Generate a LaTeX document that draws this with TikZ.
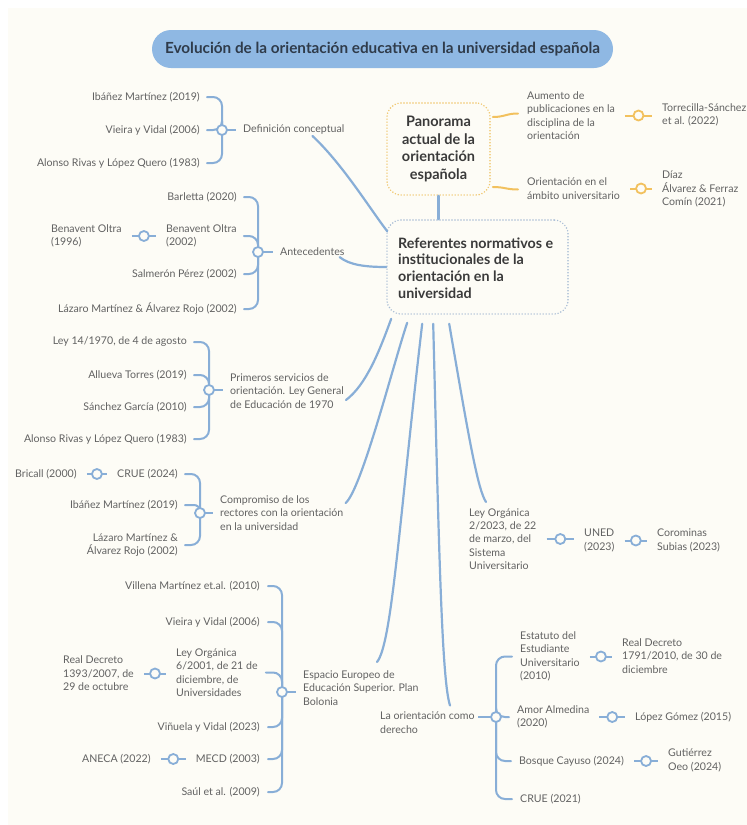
\documentclass[tikz,border=0pt]{standalone}
\usepackage{fontspec}
\setmainfont{Lato}
\usetikzlibrary{calc}
\definecolor{bg}{HTML}{FDFCF6}
\definecolor{bl}{HTML}{88AED7}
\definecolor{og}{HTML}{F2C15E}
\definecolor{tfill}{HTML}{8FB8E3}
\definecolor{ttext}{HTML}{2F3B4A}
\definecolor{lab}{HTML}{626262}
\definecolor{hd}{HTML}{3A3A3A}
\definecolor{refb}{HTML}{A8BDD5}
\definecolor{panb}{HTML}{F0C56A}
\newcommand\lnk[3][]{%
  \draw[lk,#1] ([xshift=10pt]#2.east) -- coordinate[midway] (m#2#3) ([xshift=-10pt]#3.west |- #2.east);
  \node[dot,#1] at (m#2#3) {};}
\begin{document}
\begin{tikzpicture}[x=1pt,y=-1pt,
  lbl/.style={inner sep=0pt, text=lab, font=\fontsize{10.6}{13.4}\selectfont},
  lblr/.style={lbl, anchor=east, align=right},
  lbll/.style={lbl, anchor=west, align=left},
  conn/.style={draw=bl, line width=2.2pt, line cap=round},
  br/.style={draw=bl, line width=2pt, line cap=round, rounded corners=9pt},
  lk/.style={draw=bl, line width=2pt},
  dot/.style={circle, draw=bl, fill=bg, line width=1.8pt, minimum size=10pt, inner sep=0pt},
  oconn/.style={draw=og, line width=2pt, line cap=round},
  dotbox/.style={dash pattern=on 0pt off 3pt, line cap=round, line width=1.6pt, rounded corners=14pt, inner sep=0pt},
]
\fill[white] (0,0) rectangle (747,825);
\fill[bg] (8,8) rectangle (747,825);
\useasboundingbox (0,0) rectangle (747,825);

% title
\node[fill=tfill, rounded corners=19pt, minimum width=461pt, minimum height=38pt, text=ttext,
  font=\bfseries\fontsize{15.3}{17}\selectfont] (title) at (382.5,49)
  {Evolución de la orientación educativa en la universidad española};

% central boxes
\node[dotbox, draw=panb, minimum width=103pt, minimum height=92pt, align=center, text=hd,
  font=\bfseries\fontsize{14.5}{17.6}\selectfont] (pan) at (438.5,149)
  {Panorama\\actual de la\\orientación\\española};
\node[dotbox, draw=refb, minimum width=181pt, minimum height=94pt] (ref) at (477.5,267) {};
\node[inner sep=0pt, anchor=west, align=left, text=hd,
  font=\bfseries\fontsize{14.3}{16.8}\selectfont] (reft) at (398,268)
  {Referentes normativos e\\institucionales de la\\orientación en la\\universidad};
\draw[conn] (pan.south) -- (pan.south |- ref.north);

% Panorama branches (orange)
\node[lbll] (aum) at (527,115.5) {Aumento de\\publicaciones en la\\disciplina de la\\orientación};
\node[lbll] (tor) at (662,115) {Torrecilla-Sánchez\\et al. (2022)};
\node[lbll] (ori) at (527,188.5) {Orientación en el\\ámbito universitario};
\node[lbll] (dia) at (662,189) {Díaz\\Álvarez \& Ferraz\\Comín (2021)};
\draw[oconn] ($(pan.east)+(2,-32)$) .. controls +(12,0) and +(-12,0) .. ($(aum.west)+(-9,-2)$);
\draw[oconn] ($(pan.east)+(2,38)$) .. controls +(12,0) and +(-12,0) .. ($(ori.west)+(-9,1)$);
\lnk[draw=og]{aum}{tor}
\lnk[draw=og]{ori}{dia}

% Definicion conceptual
\node[lblr] (a1) at (200,97) {Ibáñez Martínez (2019)};
\node[lblr] (a2) at (200,130) {Vieira y Vidal (2006)};
\node[lblr] (a3) at (200,163) {Alonso Rivas y López Quero (1983)};
\node[lbll] (def) at (243,130) {Definición conceptual};
\coordinate (ca) at (222,130);
\foreach \n in {a1,a2,a3} \draw[br] ([xshift=7pt]\n.east) -| (ca);
\draw[lk] (ca) -- ([xshift=-7pt]def.west);
\node[dot] (da) at (ca) {};

% Antecedentes
\node[lblr] (b1) at (237,197) {Barletta (2020)};
\node[lbll] (b2) at (166,236) {Benavent Oltra\\(2002)};
\node[lblr] (b3) at (237,274) {Salmerón Pérez (2002)};
\node[lblr] (b4) at (237,309) {Lázaro Martínez \& Álvarez Rojo (2002)};
\node[lbll] (b5) at (51,236) {Benavent Oltra\\(1996)};
\node[lbll] (ant) at (280,252) {Antecedentes};
\coordinate (cb) at (258,252);
\foreach \n in {b1,b2,b3,b4} \draw[br] ([xshift=7pt]\n.east) -| (cb);
\draw[lk] (cb) -- ([xshift=-7pt]ant.west);
\node[dot] (db) at (cb) {};
\lnk{b5}{b2}

% Primeros servicios
\node[lblr] (p1) at (187,342) {Ley 14/1970, de 4 de agosto};
\node[lblr] (p2) at (187,375) {Allueva Torres (2019)};
\node[lblr] (p3) at (187,407) {Sánchez García (2010)};
\node[lblr] (p4) at (187,439) {Alonso Rivas y López Quero (1983)};
\node[lbll] (pri) at (230,391) {Primeros servicios de\\orientación. Ley General\\de Educación de 1970};
\coordinate (cp) at (209,390);
\foreach \n in {p1,p2,p3,p4} \draw[br] ([xshift=7pt]\n.east) -| (cp);
\draw[lk] (cp) -- ([xshift=-7pt]pri.west |- cp);
\node[dot] (dp) at (cp) {};

% Compromiso
\node[lblr] (q1) at (178,474) {CRUE (2024)};
\node[lblr] (q2) at (178,505) {Ibáñez Martínez (2019)};
\node[lblr] (q3) at (178,545) {Lázaro Martínez \&\\Álvarez Rojo (2002)};
\node[lbll] (q4) at (15,474) {Bricall (2000)};
\node[lbll] (com) at (220,513) {Compromiso de los\\rectores con la orientación\\en la universidad};
\coordinate (cq) at (200,513);
\draw[br] ([xshift=7pt]q1.east) -| (cq);
\draw[br, rounded corners=6pt] ([xshift=7pt]q2.east) -| (cq);
\draw[br] ([xshift=7pt]q3.east) -| (cq);
\draw[lk] (cq) -- ([xshift=-7pt]com.west);
\node[dot] (dq) at (cq) {};
\lnk{q4}{q1}

% Espacio Europeo
\node[lblr] (e1) at (260,586) {Villena Martínez et.al. (2010)};
\node[lblr] (e2) at (260,622) {Vieira y Vidal (2006)};
\node[lbll] (e3) at (176,672.5) {Ley Orgánica\\6/2001, de 21 de\\diciembre, de\\Universidades};
\node[lblr] (e4) at (260,727) {Viñuela y Vidal (2023)};
\node[lblr] (e5) at (260,759) {MECD (2003)};
\node[lblr] (e6) at (260,792) {Saúl et al. (2009)};
\node[lbll] (e7) at (63,673.5) {Real Decreto\\1393/2007, de\\29 de octubre};
\node[lbll] (e8) at (82,759) {ANECA (2022)};
\node[lbll] (esp) at (303,688) {Espacio Europeo de\\Educación Superior. Plan\\Bolonia};
\coordinate (ce) at (282,692);
\foreach \n in {e1,e2,e3,e4,e5,e6} \draw[br] ([xshift=8pt]\n.east) -| (ce);
\draw[lk] (ce) -- ([xshift=-7pt]esp.west |- ce);
\node[dot] (de) at (ce) {};
\lnk{e7}{e3}
\lnk{e8}{e5}

% La orientacion como derecho
\node[lbll] (der) at (380,722.5) {La orientación como\\derecho};
\coordinate (cd) at (496,717);
\node[lbll] (r1) at (520,656.5) {Estatuto del\\Estudiante\\Universitario\\(2010)};
\node[lbll] (r2) at (517,717) {Amor Almedina\\(2020)};
\node[lbll] (r3) at (519,761) {Bosque Cayuso (2024)};
\node[lbll] (r4) at (520,799) {CRUE (2021)};
\node[lbll] (r5) at (622,656) {Real Decreto\\1791/2010, de 30 de\\diciembre};
\node[lbll] (r6) at (635,717) {López Gómez (2015)};
\node[lbll] (r7) at (668,760.5) {Gutiérrez\\Oeo (2024)};
\foreach \n in {r1,r2,r3,r4} \draw[br] ([xshift=-8pt]\n.west) -| (cd);
\draw[lk] (cd) -- ([xshift=3pt]der.east |- cd);
\node[dot] (dd) at (cd) {};
\lnk{r1}{r5}
\lnk{r2}{r6}
\lnk{r3}{r7}

% Ley Organica 2/2023
\node[lbll] (ley) at (469,539) {Ley Orgánica\\2/2023, de 22\\de marzo, del\\Sistema\\Universitario};
\node[lbll] (une) at (584,540.5) {UNED\\(2023)};
\node[lbll] (cor) at (657,540.5) {Corominas\\Subias (2023)};
\lnk{ley}{une}
\lnk{une}{cor}

% main connectors from Referentes
\draw[conn] ($(def.south east)+(-32,1)$) .. controls +(30,28) and +(-17,-22) .. ($(ref.north west)+(1,12)$);
\draw[conn] ($(ant.south east)+(-5,1)$) .. controls +(10,8) and +(-20,0) .. (ref.west);
\draw[conn] ($(pri.east)+(2,9)$) .. controls +(20,-15) and +(-12,33) .. ($(ref.south west)+(5,4)$);
\draw[conn] ($(com.east)+(2,-10)$) .. controls +(16,-13) and +(-13,38) .. ($(ref.south west)+(21,8)$);
\draw[conn] ($(esp.west)+(74,-26)$) .. controls +(15,-18) and +(-23,197) .. ($(ref.south west)+(36,9)$);
\draw[conn] ($(der.west)+(70,-17)$) .. controls +(-8,-25) and +(6,237) .. ($(ref.south west)+(47,9)$);
\draw[conn] ($(ley.west)+(17,-37)$) .. controls +(-8,-12) and +(20,117) .. ($(ref.south west)+(63,9)$);
\end{tikzpicture}
\end{document}
